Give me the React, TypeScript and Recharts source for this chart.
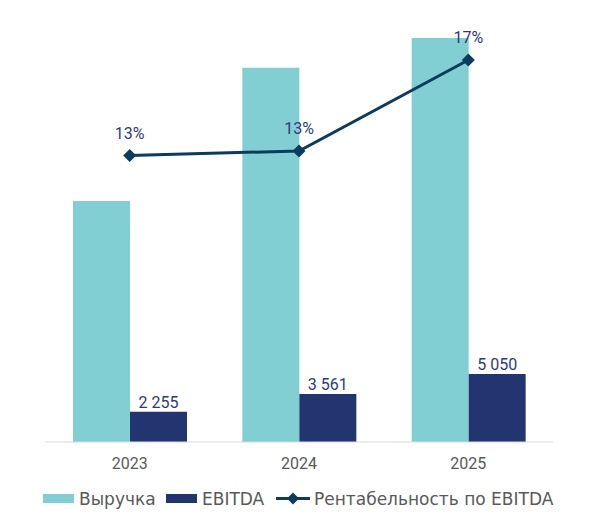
import { ComposedChart, Bar, Line, XAxis, YAxis, LabelList, Legend } from "recharts";

const years = ["2023", "2024", "2025"];
const revenue = [17900, 27800, 30000];
const ebitda = [2255, 3561, 5050];
const margin = [12.6, 12.8, 16.8];

const data = years.map((year, i) => ({
  year,
  revenue: revenue[i],
  ebitda: ebitda[i],
  margin: margin[i],
}));

const FONT = "'DejaVu Sans', sans-serif";
const NUM_FONT = "Roboto, sans-serif";
const TEAL = "#82CFD3";
const NAVY = "#233570";
const LINE = "#0B3B5E";
const LABEL = "#2E3A78";

const fmtThousands = (v: number) => String(v).replace(/\B(?=(\d{3})+(?!\d))/g, " ");

function Diamond(props: any) {
  const { cx, cy } = props;
  if (cx == null || cy == null) return null;
  const r = 6.5;
  return <polygon points={`${cx},${cy - r} ${cx + r},${cy} ${cx},${cy + r} ${cx - r},${cy}`} fill={LINE} />;
}

function LegendContent() {
  const text = { fill: "#595959", fontSize: 17, fontFamily: FONT };
  return (
    <svg width={583} height={24} style={{ display: "block" }}>
      <rect x={35} y={4} width={31} height={9} fill={TEAL} />
      <text x={71} y={15} {...text}>Выручка</text>
      <rect x={158} y={4} width={31} height={9} fill={NAVY} />
      <text x={194} y={15} {...text}>EBITDA</text>
      <line x1={268} y1={8.5} x2={302} y2={8.5} stroke={LINE} strokeWidth={3} />
      <polygon points="285,2.5 291,8.5 285,14.5 279,8.5" fill={LINE} />
      <text x={306} y={15} {...text}>Рентабельность по EBITDA</text>
    </svg>
  );
}

export default function App() {
  return (
    <ComposedChart
      width={583}
      height={512}
      data={data}
      margin={{ top: 12, right: 38, bottom: 0, left: 37 }}
      barCategoryGap={28}
      barGap={0}
      style={{ fontFamily: FONT }}
    >
      <XAxis
        dataKey="year"
        axisLine={{ stroke: "#D9D9D9" }}
        tickLine={false}
        tickMargin={10}
        tick={{ fill: "#595959", fontSize: 16, fontFamily: NUM_FONT }}
        height={48}
      />
      <YAxis yAxisId="left" hide domain={[0, 31337]} />
      <YAxis yAxisId="right" hide orientation="right" domain={[0, 18.56]} />
      <Bar yAxisId="left" dataKey="revenue" fill={TEAL} isAnimationActive={false} />
      <Bar yAxisId="left" dataKey="ebitda" fill={NAVY} isAnimationActive={false}>
        <LabelList
          dataKey="ebitda"
          position="top"
          offset={4}
          formatter={(v: any) => fmtThousands(Number(v))}
          style={{ fill: LABEL, fontSize: 16, fontFamily: NUM_FONT }}
        />
      </Bar>
      <Line
        yAxisId="right"
        dataKey="margin"
        stroke={LINE}
        strokeWidth={3}
        dot={<Diamond />}
        activeDot={false}
        isAnimationActive={false}
      >
        <LabelList
          dataKey="margin"
          position="top"
          offset={17}
          formatter={(v: any) => `${Math.round(Number(v))}%`}
          style={{ fill: LABEL, fontSize: 16, fontFamily: NUM_FONT }}
        />
      </Line>
      <Legend
        verticalAlign="bottom"
        height={30}
        wrapperStyle={{ left: 0, width: 583 }}
        content={<LegendContent />}
      />
    </ComposedChart>
  );
}
